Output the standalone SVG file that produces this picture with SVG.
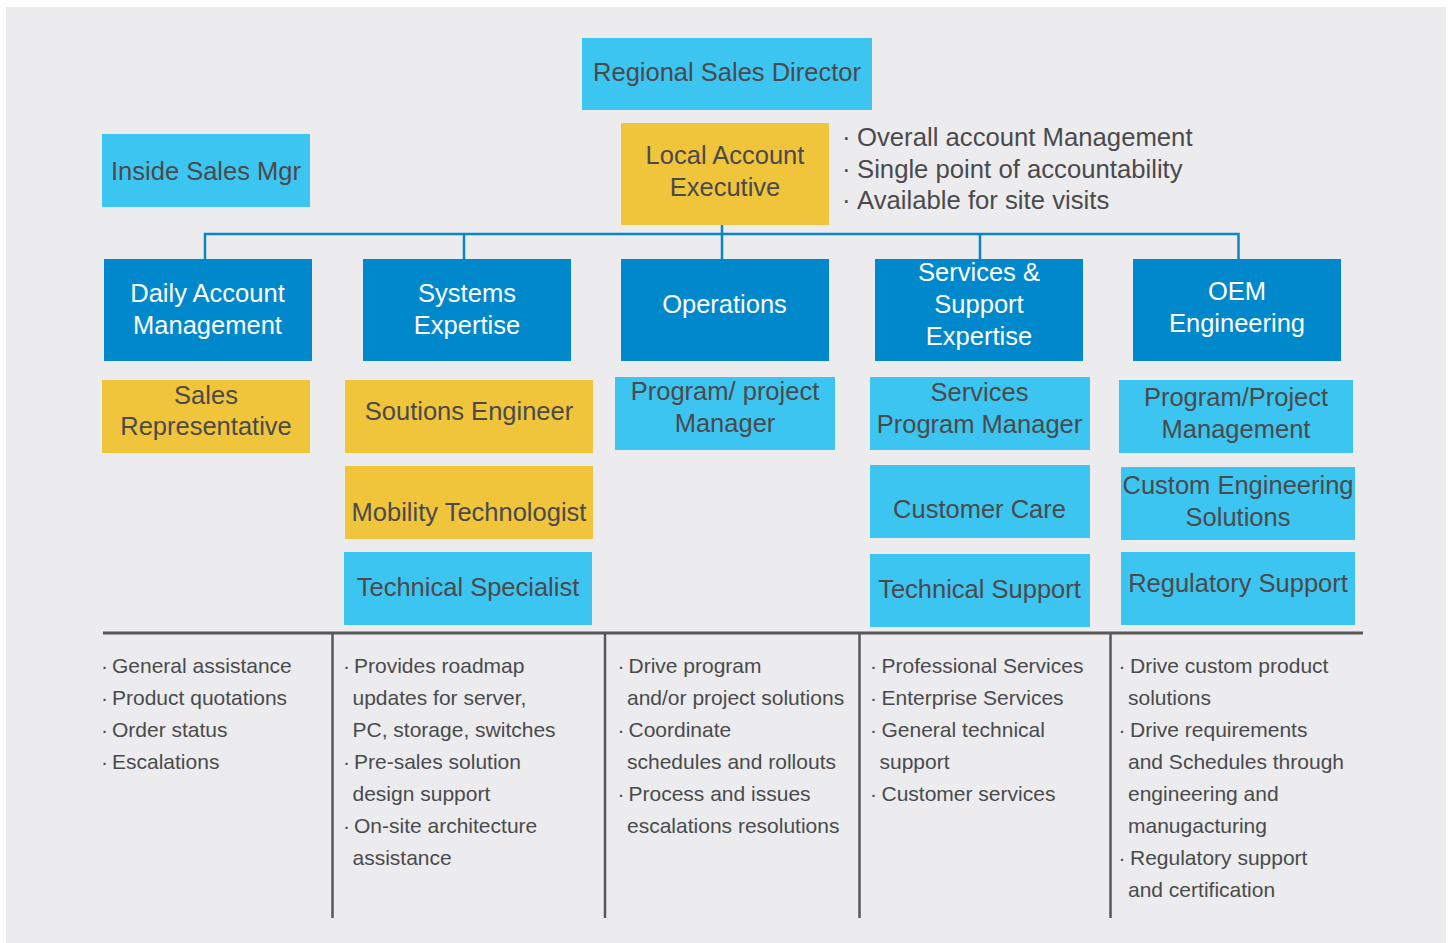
<svg xmlns="http://www.w3.org/2000/svg" width="1449" height="943" viewBox="0 0 1449 943">
<style>
.lb{fill:#3CC5F0}
.db{fill:#0088CC}
.yl{fill:#F1C53B}
.t{font-family:"Liberation Sans",Arial,sans-serif;font-size:25.5px;fill:#4A4A4C;text-anchor:middle}
.w{fill:#FFFFFF}
.note{font-family:"Liberation Sans",Arial,sans-serif;font-size:25.7px;fill:#4A4A4C}
.b{font-family:"Liberation Sans",Arial,sans-serif;font-size:21px;fill:#4A4A4C}
.conn{stroke:#0A86C8;stroke-width:2.5;fill:none}
.div{stroke:#58585A;fill:none}
</style>
<rect x="0" y="0" width="1449" height="943" fill="#FFFFFF"/>
<rect x="6" y="7" width="1440" height="936" fill="#ECECEE"/>

<g id="connectors">
<path class="conn" d="M205,259 V234 H1238.5 V259 M464,234 V259 M722,225 V259 M980,234 V259"/>
</g>

<g id="dividers">
<path class="div" stroke-width="3" d="M103,633 H1363"/>
<path class="div" stroke-width="2.5" d="M332.5,633 V918 M605,633 V918 M859.5,633 V918 M1110.5,633 V918"/>
</g>

<g id="regional-sales-director">
<rect class="lb" x="582" y="38" width="290" height="72"/>
<text class="t" x="727" y="81">Regional Sales Director</text>
</g>

<g id="inside-sales-mgr">
<rect class="lb" x="102" y="134" width="208" height="73"/>
<text class="t" x="206" y="180">Inside Sales Mgr</text>
</g>

<g id="local-account-executive">
<rect class="yl" x="621" y="123" width="208" height="102"/>
<text class="t" x="725" y="163.5">Local Account</text>
<text class="t" x="725" y="195.5">Executive</text>
</g>

<g id="lae-notes">
<text class="note" y="146"><tspan x="842">·</tspan><tspan x="857">Overall account Management</tspan></text>
<text class="note" y="177.5"><tspan x="842">·</tspan><tspan x="857">Single point of accountability</tspan></text>
<text class="note" y="209"><tspan x="842">·</tspan><tspan x="857">Available for site visits</tspan></text>
</g>

<g id="daily-account-management">
<rect class="db" x="104" y="259" width="208" height="102"/>
<text class="t w" x="207.5" y="302">Daily Account</text>
<text class="t w" x="207.5" y="334">Management</text>
</g>

<g id="systems-expertise">
<rect class="db" x="363" y="259" width="208" height="102"/>
<text class="t w" x="467" y="302">Systems</text>
<text class="t w" x="467" y="334">Expertise</text>
</g>

<g id="operations">
<rect class="db" x="621" y="259" width="208" height="102"/>
<text class="t w" x="724.5" y="312.5">Operations</text>
</g>

<g id="services-support-expertise">
<rect class="db" x="875" y="259" width="208" height="102"/>
<text class="t w" x="979" y="281">Services &amp;</text>
<text class="t w" x="979" y="312.5">Support</text>
<text class="t w" x="979" y="344.5">Expertise</text>
</g>

<g id="oem-engineering">
<rect class="db" x="1133" y="259" width="208" height="102"/>
<text class="t w" x="1237" y="300">OEM</text>
<text class="t w" x="1237" y="332">Engineering</text>
</g>

<g id="sales-representative">
<rect class="yl" x="102" y="380" width="208" height="73"/>
<text class="t" x="206" y="404">Sales</text>
<text class="t" x="206" y="434.5">Representative</text>
</g>

<g id="solutions-engineer">
<rect class="yl" x="345" y="380" width="248" height="73"/>
<text class="t" x="469" y="419.5">Soutions Engineer</text>
</g>

<g id="mobility-technologist">
<rect class="yl" x="345" y="466" width="248" height="73"/>
<text class="t" x="469" y="521">Mobility Technologist</text>
</g>

<g id="technical-specialist">
<rect class="lb" x="344" y="552" width="248" height="73"/>
<text class="t" x="468" y="596">Technical Specialist</text>
</g>

<g id="program-project-manager">
<rect class="lb" x="615" y="377" width="220" height="73"/>
<text class="t" x="725" y="400">Program/ project</text>
<text class="t" x="725" y="432">Manager</text>
</g>

<g id="services-program-manager">
<rect class="lb" x="870" y="377" width="220" height="73"/>
<text class="t" x="979.5" y="401">Services</text>
<text class="t" x="979.5" y="433">Program Manager</text>
</g>

<g id="customer-care">
<rect class="lb" x="870" y="465" width="220" height="73"/>
<text class="t" x="979.5" y="517.5">Customer Care</text>
</g>

<g id="technical-support">
<rect class="lb" x="870" y="554" width="220" height="73"/>
<text class="t" x="979.5" y="598">Technical Support</text>
</g>

<g id="program-project-management">
<rect class="lb" x="1119" y="380" width="234" height="73"/>
<text class="t" x="1236" y="406">Program/Project</text>
<text class="t" x="1236" y="437.5">Management</text>
</g>

<g id="custom-engineering-solutions">
<rect class="lb" x="1121" y="467" width="234" height="73"/>
<text class="t" x="1238" y="494">Custom Engineering</text>
<text class="t" x="1238" y="526">Solutions</text>
</g>

<g id="regulatory-support">
<rect class="lb" x="1121" y="552" width="234" height="73"/>
<text class="t" x="1238" y="592">Regulatory Support</text>
</g>

<g id="col1-notes" class="b">
<text y="673"><tspan x="101">·</tspan><tspan x="112">General assistance</tspan></text>
<text y="705"><tspan x="101">·</tspan><tspan x="112">Product quotations</tspan></text>
<text y="737"><tspan x="101">·</tspan><tspan x="112">Order status</tspan></text>
<text y="769"><tspan x="101">·</tspan><tspan x="112">Escalations</tspan></text>
</g>

<g id="col2-notes" class="b">
<text y="673"><tspan x="343">·</tspan><tspan x="354">Provides roadmap</tspan></text>
<text x="352.5" y="705">updates for server,</text>
<text x="352.5" y="737">PC, storage, switches</text>
<text y="769"><tspan x="343">·</tspan><tspan x="354">Pre-sales solution</tspan></text>
<text x="352.5" y="801">design support</text>
<text y="833"><tspan x="343">·</tspan><tspan x="354">On-site architecture</tspan></text>
<text x="352.5" y="865">assistance</text>
</g>

<g id="col3-notes" class="b">
<text y="673"><tspan x="617.5">·</tspan><tspan x="628.5">Drive program</tspan></text>
<text x="627" y="705">and/or project solutions</text>
<text y="737"><tspan x="617.5">·</tspan><tspan x="628.5">Coordinate</tspan></text>
<text x="627" y="769">schedules and rollouts</text>
<text y="801"><tspan x="617.5">·</tspan><tspan x="628.5">Process and issues</tspan></text>
<text x="627" y="833">escalations resolutions</text>
</g>

<g id="col4-notes" class="b">
<text y="673"><tspan x="870">·</tspan><tspan x="881.5">Professional Services</tspan></text>
<text y="705"><tspan x="870">·</tspan><tspan x="881.5">Enterprise Services</tspan></text>
<text y="737"><tspan x="870">·</tspan><tspan x="881.5">General technical</tspan></text>
<text x="879.5" y="769">support</text>
<text y="801"><tspan x="870">·</tspan><tspan x="881.5">Customer services</tspan></text>
</g>

<g id="col5-notes" class="b">
<text y="673"><tspan x="1118.5">·</tspan><tspan x="1130">Drive custom product</tspan></text>
<text x="1128" y="705">solutions</text>
<text y="737"><tspan x="1118.5">·</tspan><tspan x="1130">Drive requirements</tspan></text>
<text x="1128" y="769">and Schedules through</text>
<text x="1128" y="801">engineering and</text>
<text x="1128" y="833">manugacturing</text>
<text y="865"><tspan x="1118.5">·</tspan><tspan x="1130">Regulatory support</tspan></text>
<text x="1128" y="897">and certification</text>
</g>
</svg>
